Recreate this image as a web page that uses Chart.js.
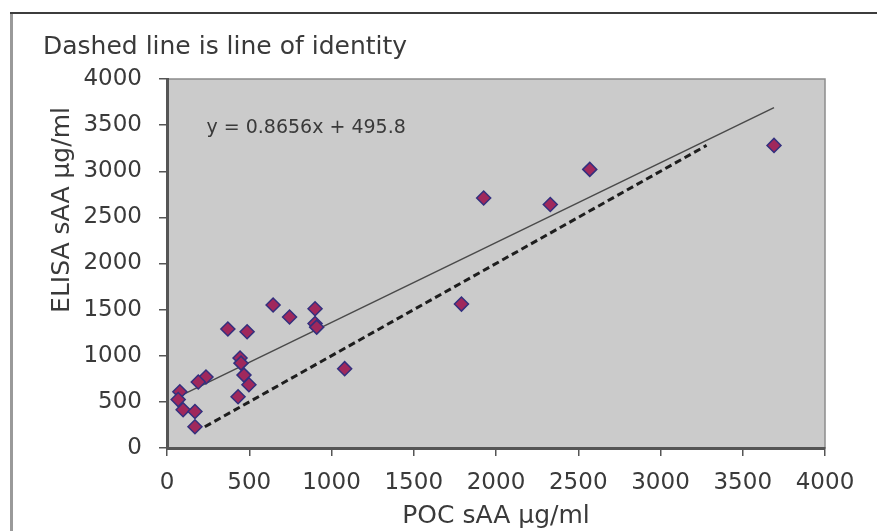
<!DOCTYPE html>
<html>
<head>
<meta charset="utf-8">
<script src="https://cdn.jsdelivr.net/npm/chart.js@4/dist/chart.umd.min.js"></script>
<style>
  html, body { margin: 0; padding: 0; background: #ffffff; }
  #wrap { width: 877px; height: 531px; }
</style>
</head>
<body>
<div id="wrap"><canvas id="c" width="877" height="531"></canvas></div>
<script>
// ---- Data ----
const pocValues = [3690, 2570, 2330, 1925, 1790, 1080, 900, 900, 910, 745, 645, 370, 487, 444, 450, 468, 498, 432, 237, 190, 78, 68, 98, 170, 170];
const elisaValues = [3280, 3020, 2640, 2710, 1560, 860, 1510, 1350, 1310, 1420, 1550, 1290, 1260, 975, 920, 790, 685, 555, 770, 715, 610, 525, 415, 395, 230];
const trendSlope = 0.8656;
const trendIntercept = 495.8;
const identityRange = [230, 3280];
const xTicks = [0, 500, 1000, 1500, 2000, 2500, 3000, 3500, 4000];
const yTicks = [0, 500, 1000, 1500, 2000, 2500, 3000, 3500, 4000];
const chartTitle = 'Dashed line is line of identity';
const xTitle = 'POC sAA µg/ml';
const yTitle = 'ELISA sAA µg/ml';
const equationText = 'y = 0.8656x + 495.8';
const equationAnchor = { x: 240, y: 3470 };
const yTitleAnchor = 2580; // axis value at which the y title is centred

// ---- Derived tables ----
const points = pocValues.map((x, i) => ({ x: x, y: elisaValues[i] }));
const xMin = Math.min(...pocValues), xMax = Math.max(...pocValues);
const trendPoints = [xMin, xMax].map(x => ({ x: x, y: trendSlope * x + trendIntercept }));
const identityPoints = identityRange.map(v => ({ x: v, y: v }));

const FONT = 'DejaVu Sans';
const TEXT = '#3a3a3a';

const backgroundPlugin = {
  id: 'bg',
  beforeDraw(chart) {
    const ctx = chart.ctx, a = chart.chartArea;
    ctx.save();
    ctx.fillStyle = '#ffffff';
    ctx.fillRect(0, 0, chart.width, chart.height);
    // outer frame
    ctx.strokeStyle = '#9a9a9a';
    ctx.lineWidth = 3;
    ctx.beginPath();
    ctx.moveTo(11.5, chart.height);
    ctx.lineTo(11.5, 13);
    ctx.stroke();
    ctx.strokeStyle = '#3c3c3c';
    ctx.lineWidth = 2;
    ctx.beginPath();
    ctx.moveTo(10, 13);
    ctx.lineTo(chart.width, 13);
    ctx.stroke();
    // plot area
    ctx.fillStyle = '#cbcbcb';
    ctx.fillRect(a.left, a.top, a.right - a.left, a.bottom - a.top);
    ctx.strokeStyle = '#8c8c8c';
    ctx.lineWidth = 1.5;
    ctx.strokeRect(a.left, a.top, a.right - a.left, a.bottom - a.top);
    ctx.restore();
  }
};

const textPlugin = {
  id: 'texts',
  afterDraw(chart) {
    const ctx = chart.ctx;
    const xs = chart.scales.x, ys = chart.scales.y;
    ctx.save();
    // regression equation
    ctx.font = '19px "' + FONT + '"';
    ctx.fillStyle = TEXT;
    ctx.textAlign = 'left';
    ctx.textBaseline = 'middle';
    ctx.fillText(equationText, xs.getPixelForValue(equationAnchor.x), ys.getPixelForValue(equationAnchor.y));
    // y axis title
    ctx.font = '25px "' + FONT + '"';
    ctx.textAlign = 'center';
    ctx.translate(ys.left + 19, ys.getPixelForValue(yTitleAnchor));
    ctx.rotate(-Math.PI / 2);
    ctx.fillText(yTitle, 0, 0);
    ctx.restore();
  }
};

new Chart(document.getElementById('c'), {
  type: 'scatter',
  data: {
    datasets: [
      {
        label: 'Data',
        data: points,
        pointStyle: 'rectRot',
        pointRadius: 7,
        pointHoverRadius: 7,
        backgroundColor: '#a0285c',
        borderColor: '#33307e',
        borderWidth: 1.5,
        showLine: false
      },
      {
        label: 'Trend',
        data: trendPoints,
        showLine: true,
        borderColor: '#4a4a4a',
        borderWidth: 1.5,
        pointRadius: 0,
        fill: false
      },
      {
        label: 'Identity',
        data: identityPoints,
        showLine: true,
        borderColor: '#1e1e1e',
        borderWidth: 3,
        borderDash: [7, 4],
        pointRadius: 0,
        fill: false
      }
    ]
  },
  options: {
    responsive: false,
    animation: false,
    devicePixelRatio: 1,
    layout: { padding: { left: 43, right: 52, top: 32, bottom: 0 } },
    plugins: {
      legend: { display: false },
      tooltip: { enabled: false },
      title: {
        display: true,
        text: chartTitle,
        align: 'start',
        color: TEXT,
        font: { family: FONT, size: 25, weight: 'normal', lineHeight: 1.2 },
        padding: { top: 0, bottom: 17 }
      }
    },
    scales: {
      x: {
        type: 'linear',
        min: 0, max: 4000,
        afterBuildTicks(scale) { scale.ticks = xTicks.map(v => ({ value: v })); },
        afterFit(scale) { scale.height = 83; },
        ticks: {
          color: TEXT,
          font: { family: FONT, size: 23 },
          padding: 13,
          maxRotation: 0,
          autoSkip: false,
          callback: v => String(v)
        },
        grid: { drawOnChartArea: false, drawTicks: true, tickLength: 8, color: '#555555', lineWidth: 1.5 },
        border: { display: true, color: '#555555', width: 3 },
        title: {
          display: true,
          text: xTitle,
          color: TEXT,
          font: { family: FONT, size: 25, lineHeight: 1.2 },
          padding: { top: 0, bottom: 0 }
        }
      },
      y: {
        type: 'linear',
        min: 0, max: 4000,
        afterBuildTicks(scale) { scale.ticks = yTicks.map(v => ({ value: v })); },
        afterFit(scale) { scale.width = 124; },
        ticks: {
          color: TEXT,
          font: { family: FONT, size: 23 },
          padding: 17,
          autoSkip: false,
          callback: v => String(v)
        },
        grid: { drawOnChartArea: false, drawTicks: true, tickLength: 8, color: '#555555', lineWidth: 1.5 },
        border: { display: true, color: '#555555', width: 3 },
        title: { display: false, text: yTitle }
      }
    }
  },
  plugins: [backgroundPlugin, textPlugin]
});
</script>
</body>
</html>
